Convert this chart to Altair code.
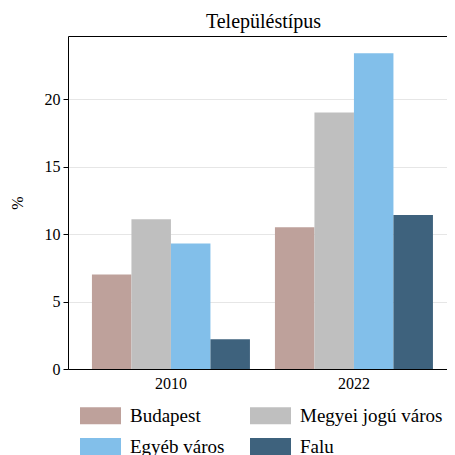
import altair as alt
import pandas as pd

years = ["2010", "2022"]
types = ["Budapest", "Megyei jogú város", "Egyéb város", "Falu"]
colors = ["#bea19b", "#bfbfbf", "#82bfea", "#3e627d"]
values_2010 = [7.0, 11.1, 9.3, 2.2]
values_2022 = [10.5, 19.0, 23.4, 11.4]

rows = []
for t, v in zip(types, values_2010):
    rows.append({"year": "2010", "type": t, "value": v})
for t, v in zip(types, values_2022):
    rows.append({"year": "2022", "type": t, "value": v})
df = pd.DataFrame(rows)

FONT = "Liberation Serif"
rect_path = "M-1,-0.415L1,-0.415L1,0.415L-1,0.415Z"

xscale = alt.Scale(paddingInner=0.1366, paddingOuter=0.1038, align=0.63)
yscale = alt.Scale(domain=[0, 24.67], nice=False)

bars = alt.Chart(df).mark_bar().encode(
    x=alt.X("year:N", sort=years, title=None, scale=xscale,
            axis=alt.Axis(labelAngle=0, ticks=False, domainColor="black",
                          labelFontSize=16, labelPadding=6)),
    xOffset=alt.XOffset("type:N", sort=types),
    y=alt.Y("value:Q", title="%", scale=yscale,
            axis=alt.Axis(values=[0, 5, 10, 15, 20], grid=True, gridColor="#e6e6e6",
                          domainColor="black", tickColor="black", tickSize=5,
                          labelFontSize=16, titleFontSize=16, titleFontWeight="normal",
                          labelPadding=3, titlePadding=19)),
    color=alt.Color("type:N", sort=types, title=None,
                    scale=alt.Scale(domain=types, range=colors),
                    legend=alt.Legend(orient="none", legendX=12, legendY=359,
                                      direction="horizontal",
                                      columns=2, symbolType=rect_path,
                                      symbolSize=1681, labelFontSize=19,
                                      symbolOpacity=1, symbolStrokeWidth=0,
                                      columnPadding=25, rowPadding=-4,
                                      labelOffset=9)),
)

frame = alt.Chart(df).mark_bar(opacity=0).encode(
    x=alt.X("year:N", sort=years, title=None, scale=xscale,
            axis=alt.Axis(orient="top", labels=False, ticks=False,
                          domainColor="black", grid=False)),
    xOffset=alt.XOffset("type:N", sort=types),
    y=alt.Y("value:Q", scale=yscale, axis=None),
)

chart = alt.layer(bars, frame).resolve_axis(x="independent", y="independent").properties(
    width=379, height=333,
    autosize=alt.AutoSizeParams(type="none"),
    padding={"left": 60, "top": 28, "right": 0, "bottom": 86},
    title=alt.TitleParams("Településtípus", fontSize=20, fontWeight="normal",
                          offset=4, dx=6),
).configure(
    font=FONT,
).configure_view(
    stroke=None
).configure_axis(
    labelColor="black", titleColor="black", labelFont=FONT, titleFont=FONT
).configure_legend(
    labelFont=FONT, labelColor="black"
).configure_title(
    font=FONT, color="black"
)

chart.save("out.html", embed_options={"renderer": "svg", "actions": False})
